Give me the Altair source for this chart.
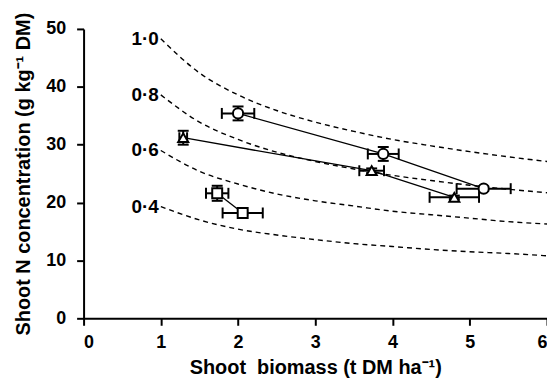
import altair as alt
import pandas as pd

# ---- data ----
curve_x = [1.0, 1.5, 2.0, 2.5, 3.0, 3.5, 4.0, 4.5, 5.0, 5.5, 6.0]
nni_10 = [48.3, 42.4, 38.6, 35.9, 33.9, 32.3, 30.9, 29.8, 28.8, 27.9, 27.1]
nni_08 = [38.6, 33.9, 30.9, 28.7, 27.1, 25.8, 24.7, 23.8, 23.0, 22.3, 21.7]
nni_06 = [29.0, 25.4, 23.2, 21.5, 20.3, 19.4, 18.5, 17.9, 17.3, 16.7, 16.3]
nni_04 = [19.3, 17.0, 15.4, 14.4, 13.6, 12.9, 12.4, 11.9, 11.5, 11.2, 10.8]
curve_labels = ["1·0", "0·8", "0·6", "0·4"]

circle_x = [2.00, 3.88, 5.18]
circle_y = [35.4, 28.4, 22.4]
circle_xerr = [0.21, 0.20, 0.35]
circle_yerr = [1.2, 1.2, 0.4]

triangle_x = [1.29, 3.73, 4.80]
triangle_y = [31.2, 25.5, 20.9]
triangle_xerr = [0.05, 0.16, 0.32]
triangle_yerr = [1.2, 0.4, 0.3]

square_x = [1.73, 2.06]
square_y = [21.6, 18.2]
square_xerr = [0.145, 0.26]
square_yerr = [1.3, 0.3]

# ---- tables ----
curves = pd.concat([
    pd.DataFrame({"x": curve_x, "y": vals, "curve": lab})
    for lab, vals in zip(curve_labels, [nni_10, nni_08, nni_06, nni_04])
])
labels = pd.DataFrame({
    "x": [curve_x[0]] * 4,
    "y": [nni_10[0], nni_08[0], nni_06[0], nni_04[0]],
    "label": curve_labels,
})

def series(name, xs, ys, xe, ye):
    d = pd.DataFrame({"x": xs, "y": ys, "xerr": xe, "yerr": ye})
    d["series"] = name
    d["order"] = range(len(xs))
    return d

pts = pd.concat([
    series("circle", circle_x, circle_y, circle_xerr, circle_yerr),
    series("triangle", triangle_x, triangle_y, triangle_xerr, triangle_yerr),
    series("square", square_x, square_y, square_xerr, square_yerr),
])
pts["xlo"] = pts["x"] - pts["xerr"]
pts["xhi"] = pts["x"] + pts["xerr"]
pts["ylo"] = pts["y"] - pts["yerr"]
pts["yhi"] = pts["y"] + pts["yerr"]

FONT = "Liberation Sans"
xs = alt.Scale(domain=[0, 6], nice=False, zero=False)
ys = alt.Scale(domain=[0, 50], nice=False, zero=False)

X = alt.X("x:Q", scale=xs, axis=alt.Axis(
    title="Shoot\u00a0 biomass (t DM ha⁻¹)", values=[0, 1, 2, 3, 4, 5, 6],
    format="d", titlePadding=7, labelPadding=8))
Y = alt.Y("y:Q", scale=ys, axis=alt.Axis(
    title="Shoot N concentration (g kg⁻¹ DM)",
    values=[0, 10, 20, 30, 40, 50],
    format="d", titlePadding=12, labelPadding=11))

base_curves = alt.Chart(curves).mark_line(
    color="black", strokeDash=[5, 4], strokeWidth=1.4, interpolate="monotone"
).encode(x=X, y=Y, detail="curve:N")

curve_text = alt.Chart(labels).mark_text(
    align="right", baseline="middle", dx=-2, font=FONT, fontWeight="bold",
    fontSize=19, color="black"
).encode(x=alt.X("x:Q", scale=xs), y=alt.Y("y:Q", scale=ys), text="label:N")

conn = alt.Chart(pts).mark_line(color="black", strokeWidth=1.3).encode(
    x=alt.X("x:Q", scale=xs), y=alt.Y("y:Q", scale=ys),
    detail="series:N", order="order:Q")

hbar = alt.Chart(pts).mark_rule(color="black", strokeWidth=2).encode(
    x=alt.X("xlo:Q", scale=xs), x2="xhi:Q", y=alt.Y("y:Q", scale=ys))
vbar = alt.Chart(pts).mark_rule(color="black", strokeWidth=2).encode(
    y=alt.Y("ylo:Q", scale=ys), y2="yhi:Q", x=alt.X("x:Q", scale=xs))

def caps(field, orient, axis):
    if axis == "x":
        enc = dict(x=alt.X(f"{field}:Q", scale=xs), y=alt.Y("y:Q", scale=ys))
    else:
        enc = dict(x=alt.X("x:Q", scale=xs), y=alt.Y(f"{field}:Q", scale=ys))
    return alt.Chart(pts).mark_tick(
        color="black", thickness=2, size=11, orient=orient, opacity=1
    ).encode(**enc)

cap_layers = [caps("xlo", "vertical", "x"), caps("xhi", "vertical", "x"),
              caps("ylo", "horizontal", "y"), caps("yhi", "horizontal", "y")]

markers = alt.Chart(pts).mark_point(
    filled=False, fill="white", fillOpacity=1, color="black", strokeWidth=2,
    opacity=1
).encode(
    x=alt.X("x:Q", scale=xs), y=alt.Y("y:Q", scale=ys),
    shape=alt.Shape("series:N", scale=alt.Scale(
        domain=["circle", "triangle", "square"],
        range=["circle", "triangle-up", "square"]), legend=None),
    size=alt.Size("series:N", scale=alt.Scale(
        domain=["circle", "triangle", "square"], range=[105, 100, 115]),
        legend=None),
)

chart = alt.layer(
    base_curves, curve_text, conn, hbar, vbar, *cap_layers, markers
).properties(
    width=466, height=291, autosize="none",
    padding={"left": 76, "top": 20, "right": 0, "bottom": 62},
).configure_view(stroke=None).configure_axis(
    grid=False, domainColor="black", domainWidth=2, tickColor="black",
    tickWidth=2, tickSize=7, labelFont=FONT, labelFontSize=18,
    labelFontWeight="bold", labelColor="black", titleFont=FONT,
    titleFontSize=20, titleFontWeight="bold", titleColor="black",
)

chart.save("out.html", embed_options={"renderer": "svg", "actions": False})
